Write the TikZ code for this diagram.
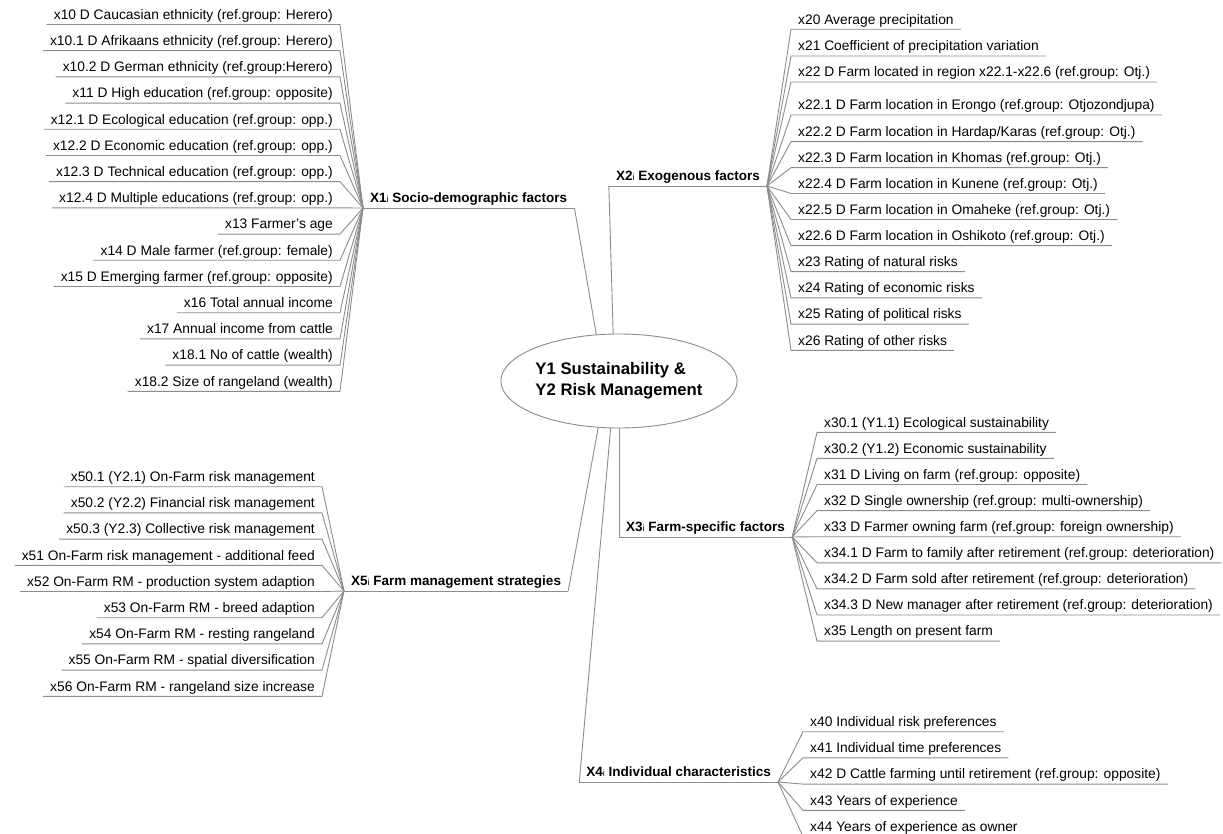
\documentclass[tikz,border=0pt]{standalone}
\usepackage{fontspec}
\setmainfont{Liberation Sans}
\usetikzlibrary{shapes.geometric}
\definecolor{linegray}{RGB}{140,140,140}
\newcommand\smalli{{\fontsize{9}{9}\selectfont\mdseries i}}
\tikzset{
  conn/.style={draw=linegray, line width=0.9pt},
  leaf/.style={inner xsep=7pt, inner ysep=2pt, text height=10pt, text depth=3pt, font=\fontsize{13.8}{14}\selectfont},
  cat/.style={inner xsep=7pt, inner ysep=2pt, text height=10pt, text depth=3pt, font=\fontsize{13.5}{14}\selectfont\bfseries},
  root/.style={ellipse, draw=linegray, line width=0.9pt, fill=white, minimum width=197pt, minimum height=94pt, inner sep=0pt, align=left, font=\fontsize{16.7}{21}\selectfont\bfseries},
}
\begin{document}
\begin{tikzpicture}[x=1pt,y=-1pt]
\useasboundingbox (0,0) rectangle (1223,834);
\fill[white] (0,0) rectangle (1223,834);

\node[root] (Y) at (619,381) {Y1 Sustainability \&\\Y2 Risk Management};

\node[cat, anchor=south west] (X1) at (363,208) {X1\smalli{} Socio-demographic factors};
\node[cat, anchor=south east] (X2) at (767,186) {X2\smalli{} Exogenous factors};
\node[cat, anchor=south west] (X3) at (619,537) {X3\smalli{} Farm-specific factors};
\node[cat, anchor=south east] (X4) at (778,782) {X4\smalli{} Individual characteristics};
\node[cat, anchor=south west] (X5) at (344,591) {X5\smalli{} Farm management strategies};

\foreach \n in {X1,X2,X3,X4,X5} {\draw[conn] (\n.south west) -- (\n.south east);}
\draw[conn] (X1.south east) -- (Y.116.7);
\draw[conn] (X2.south west) -- (Y.97.3);
\draw[conn] (Y.270) -- (X3.south west);
\draw[conn] (Y.260.3) -- (X4.south west);
\draw[conn] (Y.246) -- (X5.south east);

% X1 leaves
\foreach \yy/\t [count=\i] in {
  24.5/{x10 D Caucasian ethnicity (ref.group: Herero)},
  50.7/{x10.1 D Afrikaans ethnicity (ref.group: Herero)},
  76.9/{x10.2 D German ethnicity (ref.group:Herero)},
  103.1/{x11 D High education (ref.group: opposite)},
  129.3/{x12.1 D Ecological education (ref.group: opp.)},
  155.5/{x12.2 D Economic education (ref.group: opp.)},
  181.7/{x12.3 D Technical education (ref.group: opp.)},
  207.9/{x12.4 D Multiple educations (ref.group: opp.)},
  234.1/{x13 Farmer's age},
  260.3/{x14 D Male farmer (ref.group: female)},
  286.5/{x15 D Emerging farmer (ref.group: opposite)},
  312.7/{x16 Total annual income},
  338.9/{x17 Annual income from cattle},
  365.1/{x18.1 No of cattle (wealth)},
  391.3/{x18.2 Size of rangeland (wealth)}} {
  \node[leaf, anchor=south east] (a\i) at (340,\yy) {\t};
  \draw[conn] (a\i.south west) -- (a\i.south east) -- (X1.south west);
}

% X2 leaves
\foreach \yy/\t [count=\i] in {
  29.3/{x20 Average precipitation},
  56/{x21 Coefficient of precipitation variation},
  82/{x22 D Farm located in region x22.1-x22.6 (ref.group: Otj.)},
  115/{x22.1 D Farm location in Erongo (ref.group: Otjozondjupa)},
  141.7/{x22.2 D Farm location in Hardap/Karas (ref.group: Otj.)},
  167.7/{x22.3 D Farm location in Khomas (ref.group: Otj.)},
  193.5/{x22.4 D Farm location in Kunene (ref.group: Otj.)},
  219.5/{x22.5 D Farm location in Omaheke (ref.group: Otj.)},
  245.7/{x22.6 D Farm location in Oshikoto (ref.group: Otj.)},
  271.7/{x23 Rating of natural risks},
  297.9/{x24 Rating of economic risks},
  324.1/{x25 Rating of political risks},
  350.3/{x26 Rating of other risks}} {
  \node[leaf, anchor=south west] (b\i) at (791,\yy) {\t};
  \draw[conn] (X2.south east) -- (b\i.south west) -- (b\i.south east);
}

% X3 leaves
\foreach \yy/\t [count=\i] in {
  432.3/{x30.1 (Y1.1) Ecological sustainability},
  458.4/{x30.2 (Y1.2) Economic sustainability},
  484.5/{x31 D Living on farm (ref.group: opposite)},
  510.6/{x32 D Single ownership (ref.group: multi-ownership)},
  536.7/{x33 D Farmer owning farm (ref.group: foreign ownership)},
  562.8/{x34.1 D Farm to family after retirement (ref.group: deterioration)},
  588.9/{x34.2 D Farm sold after retirement (ref.group: deterioration)},
  615/{x34.3 D New manager after retirement (ref.group: deterioration)},
  641.1/{x35 Length on present farm}} {
  \node[leaf, anchor=south west] (c\i) at (817,\yy) {\t};
  \draw[conn] (X3.south east) -- (c\i.south west) -- (c\i.south east);
}

% X4 leaves
\foreach \yy/\t [count=\i] in {
  731.7/{x40 Individual risk preferences},
  757.9/{x41 Individual time preferences},
  784.1/{x42 D Cattle farming until retirement (ref.group: opposite)},
  810.3/{x43 Years of experience},
  836.5/{x44 Years of experience as owner}} {
  \node[leaf, anchor=south west] (d\i) at (803,\yy) {\t};
  \draw[conn] (X4.south east) -- (d\i.south west) -- (d\i.south east);
}

% X5 leaves
\foreach \yy/\t [count=\i] in {
  486.7/{x50.1 (Y2.1) On-Farm risk management},
  512.9/{x50.2 (Y2.2) Financial risk management},
  539.1/{x50.3 (Y2.3) Collective risk management},
  565.3/{x51 On-Farm risk management - additional feed},
  591.5/{x52 On-Farm RM - production system adaption},
  617.7/{x53 On-Farm RM - breed adaption},
  643.9/{x54 On-Farm RM - resting rangeland},
  670.1/{x55 On-Farm RM - spatial diversification},
  696.3/{x56 On-Farm RM - rangeland size increase}} {
  \node[leaf, anchor=south east] (e\i) at (322,\yy) {\t};
  \draw[conn] (e\i.south west) -- (e\i.south east) -- (X5.south west);
}
\end{tikzpicture}
\end{document}
